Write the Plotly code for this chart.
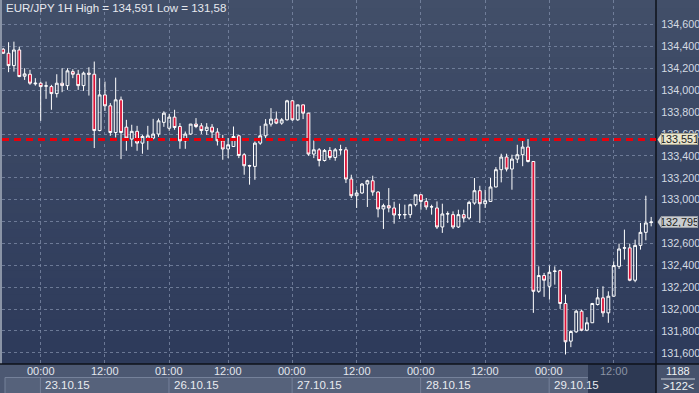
import plotly.graph_objects as go

# ---------------- data ----------------
open_ = [134.376, 134.339, 134.226, 134.369, 134.129, 134.147, 134.059, 134.065, 134.038, 134.034,
         133.970, 134.065, 134.043, 134.171, 134.147, 134.043, 134.157, 134.147, 133.632, 133.958,
         133.858, 133.614, 133.913, 133.663, 133.554, 133.625, 133.517, 133.554, 133.563, 133.600,
         133.707, 133.653, 133.755, 133.669, 133.538, 133.600, 133.691, 133.675, 133.632, 133.663,
         133.618, 133.538, 133.463, 133.486, 133.584, 133.411, 133.312, 133.304, 133.517, 133.584,
         133.691, 133.737, 133.700, 133.730, 133.904, 133.730, 133.867, 133.791, 133.417, 133.456,
         133.358, 133.450, 133.386, 133.454, 133.456, 133.189, 133.036, 133.061, 133.143, 133.173,
         133.070, 132.915, 132.945, 132.924, 132.860, 132.861, 132.863, 132.954, 133.045, 132.984,
         132.933, 132.924, 132.750, 132.869, 132.863, 132.750, 132.863, 132.832, 132.969, 133.082,
         132.963, 132.984, 133.116, 133.274, 133.390, 133.280, 133.371, 133.411, 133.481, 133.349,
         132.162, 132.306, 132.208, 132.343, 132.351, 132.050, 131.706, 131.791, 131.980, 131.806,
         131.874, 132.041, 132.102, 131.965, 132.117, 132.390, 132.556, 132.559, 132.263, 132.582,
         132.701, 132.790]
high = [134.388, 134.440, 134.445, 134.400, 134.202, 134.187, 134.111, 134.080, 134.080, 134.050,
        134.147, 134.202, 134.202, 134.193, 134.187, 134.171, 134.211, 134.263, 134.111, 134.080,
        133.883, 134.116, 133.943, 133.730, 133.685, 133.675, 133.593, 133.675, 133.739, 133.742,
        133.808, 133.785, 133.822, 133.700, 133.623, 133.693, 133.746, 133.700, 133.700, 133.691,
        133.654, 133.593, 133.563, 133.669, 133.593, 133.426, 133.319, 133.532, 133.675, 133.737,
        133.837, 133.806, 133.746, 133.913, 133.913, 133.869, 133.869, 133.793, 133.541, 133.472,
        133.463, 133.481, 133.472, 133.502, 133.481, 133.228, 133.091, 133.152, 133.182, 133.219,
        133.076, 132.963, 133.106, 132.981, 132.963, 132.954, 132.963, 133.047, 133.047, 133.015,
        132.954, 132.984, 132.963, 132.893, 132.893, 132.908, 132.908, 132.990, 133.198, 133.127,
        133.091, 133.198, 133.298, 133.420, 133.420, 133.411, 133.502, 133.538, 133.554, 133.352,
        132.390, 132.330, 132.397, 132.390, 132.360, 132.132, 131.806, 131.995, 131.995, 131.925,
        132.056, 132.184, 132.208, 132.162, 132.436, 132.598, 132.726, 132.598, 132.634, 132.787,
        133.036, 132.842]
low = [134.333, 134.166, 134.171, 134.120, 134.095, 134.050, 134.043, 133.721, 133.922, 133.822,
       133.934, 133.983, 134.004, 134.111, 134.004, 133.995, 133.952, 133.472, 133.625, 133.812,
       133.584, 133.569, 133.371, 133.447, 133.484, 133.447, 133.420, 133.456, 133.552, 133.575,
       133.666, 133.630, 133.639, 133.465, 133.465, 133.593, 133.654, 133.600, 133.593, 133.548,
       133.495, 133.365, 133.380, 133.484, 133.380, 133.228, 133.137, 133.182, 133.502, 133.563,
       133.669, 133.691, 133.685, 133.724, 133.721, 133.721, 133.737, 133.401, 133.380, 133.304,
       133.349, 133.365, 133.356, 133.411, 133.152, 133.015, 132.924, 133.054, 132.933, 133.036,
       132.838, 132.732, 132.884, 132.780, 132.823, 132.823, 132.833, 132.938, 132.908, 132.908,
       132.863, 132.732, 132.696, 132.787, 132.732, 132.741, 132.792, 132.817, 132.954, 132.787,
       132.924, 132.980, 133.113, 133.158, 133.258, 133.091, 133.335, 133.306, 133.340, 131.965,
       132.148, 132.111, 132.086, 132.223, 132.001, 131.584, 131.651, 131.782, 131.797, 131.797,
       131.872, 132.032, 131.928, 131.874, 132.114, 132.367, 132.452, 132.254, 132.245, 132.543,
       132.628, 132.756]
close = [134.339, 134.226, 134.369, 134.126, 134.150, 134.065, 134.065, 134.034, 134.041, 133.970,
         134.065, 134.043, 134.178, 134.147, 134.043, 134.157, 134.147, 133.632, 133.958, 133.858,
         133.614, 133.913, 133.614, 133.563, 133.625, 133.517, 133.578, 133.584, 133.600, 133.721,
         133.791, 133.755, 133.660, 133.538, 133.600, 133.691, 133.669, 133.632, 133.663, 133.618,
         133.538, 133.463, 133.502, 133.578, 133.404, 133.310, 133.308, 133.517, 133.584, 133.691,
         133.737, 133.700, 133.730, 133.904, 133.730, 133.867, 133.791, 133.417, 133.456, 133.358,
         133.450, 133.386, 133.456, 133.458, 133.189, 133.036, 133.061, 133.143, 133.173, 133.070,
         132.915, 132.945, 132.924, 132.860, 132.863, 132.864, 132.954, 133.045, 132.984, 132.933,
         132.935, 132.750, 132.869, 132.871, 132.750, 132.863, 132.832, 132.975, 133.082, 132.963,
         132.990, 133.116, 133.274, 133.390, 133.280, 133.371, 133.411, 133.481, 133.349, 132.162,
         132.306, 132.263, 132.336, 132.347, 132.050, 131.700, 131.794, 131.980, 131.806, 131.874,
         132.050, 132.102, 131.965, 132.117, 132.397, 132.549, 132.560, 132.263, 132.582, 132.701,
         132.787, 132.795]

time_tick_idx = [7, 19, 31, 42, 54, 66, 78, 90, 102, 114]
time_tick_text = ["00:00", "12:00", "01:00", "12:00", "00:00", "12:00", "00:00", "12:00", "00:00", "12:00"]
date_idx = [7, 31, 54, 78, 102]
date_text = ["23.10.15", "26.10.15", "27.10.15", "28.10.15", "29.10.15"]
y_tick_vals = [131.6, 131.8, 132.0, 132.2, 132.4, 132.6, 132.8, 133.0, 133.2, 133.4,
               133.6, 133.8, 134.0, 134.2, 134.4, 134.6]
level_price = 133.551
last_price = 132.795
title_text = "EUR/JPY 1H High = 134,591 Low = 131,58"
bars_total = "1188"
bars_visible = ">122<"

# ---------------- styling ----------------
W, H = 699, 393
ML, MR, MT, MB = 2, 43, 0, 29
PW, PH = W - ML - MR, H - MT - MB
FONT = "Liberation Sans Narrow, Arial Narrow, Liberation Sans, Arial, sans-serif"
FS = 11.5
FS_AX = 10.8

def px_x(px):
    return (px - ML) / PW

def px_y(py):
    return (MT + PH - py) / PH

idx = list(range(len(open_)))
fmt = lambda v: f"{v:.3f}".replace(".", ",")
# the 132,800 label sits fully behind the last-price tag in the reference
y_tick_text = ["" if abs(v - 132.8) < 1e-9 else fmt(v) for v in y_tick_vals]

fig = go.Figure()
fig.add_trace(go.Candlestick(
    x=idx, open=open_, high=high, low=low, close=close,
    increasing=dict(line=dict(color="#ffffff", width=1), fillcolor="rgba(0,0,0,0)"),
    decreasing=dict(line=dict(color="#ffffff", width=1), fillcolor="#dc1237"),
    whiskerwidth=0, hoverinfo="skip", showlegend=False,
))

shapes = []
# gradient background
top_c = (66, 79, 105)
bot_c = (43, 56, 89)
N = 48
y_bot, y_top = px_y(H), px_y(0)
for k in range(N):
    t = (k + 0.5) / N
    c = tuple(round(top_c[j] + (bot_c[j] - top_c[j]) * t) for j in range(3))
    y1 = y_top - (y_top - y_bot) * k / N
    y0 = y_top - (y_top - y_bot) * (k + 1) / N
    shapes.append(dict(type="rect", xref="paper", yref="paper", x0=px_x(0), x1=px_x(W),
                       y0=y0 - 0.002, y1=y1, fillcolor="rgb(%d,%d,%d)" % c, line=dict(width=0),
                       layer="below"))
# bottom axis panel
shapes.append(dict(type="rect", xref="paper", yref="paper", x0=px_x(0), x1=px_x(W), y0=px_y(H), y1=px_y(364),
                   fillcolor="#4c5872", line=dict(width=0), layer="below"))
# date row boxes
shapes.append(dict(type="rect", xref="paper", yref="paper", x0=px_x(5), x1=1, y0=px_y(H), y1=px_y(377),
                   fillcolor="#56627b", line=dict(width=0), layer="below"))
shapes.append(dict(type="line", xref="paper", yref="paper", x0=px_x(5), x1=1, y0=px_y(377.5), y1=px_y(377.5),
                   line=dict(color="#75819a", width=1), layer="below"))
for d in date_idx:
    shapes.append(dict(type="line", xref="x", yref="paper", x0=d - 0.05, x1=d - 0.05, y0=px_y(H), y1=px_y(377.5),
                       line=dict(color="#75819a", width=1), layer="below"))
shapes.append(dict(type="line", xref="paper", yref="paper", x0=px_x(5), x1=px_x(5), y0=px_y(H), y1=px_y(377.5),
                   line=dict(color="#75819a", width=1), layer="below"))
# dark (future) region in the axis panel
shapes.append(dict(type="rect", xref="paper", yref="paper", x0=px_x(588), x1=1, y0=px_y(H), y1=px_y(364),
                   fillcolor="#2d3953", line=dict(width=0), layer="below"))
# corner box
shapes.append(dict(type="rect", xref="paper", yref="paper", x0=1, x1=px_x(W), y0=px_y(H), y1=px_y(364),
                   fillcolor="#46526c", line=dict(width=0), layer="below"))
shapes.append(dict(type="line", xref="paper", yref="paper", x0=px_x(661), x1=px_x(695), y0=px_y(379), y1=px_y(379),
                   line=dict(color="#c9cfd8", width=1)))
# left border strip
shapes.append(dict(type="rect", xref="paper", yref="paper", x0=px_x(0), x1=px_x(2), y0=px_y(364), y1=px_y(0),
                   fillcolor="#8a94a6", line=dict(width=0)))
# frame lines
shapes.append(dict(type="line", xref="paper", yref="paper", x0=1, x1=1, y0=px_y(H), y1=px_y(0),
                   line=dict(color="#0e121a", width=1.5)))
shapes.append(dict(type="line", xref="paper", yref="paper", x0=px_x(0), x1=px_x(W), y0=0, y1=0,
                   line=dict(color="#0e121a", width=1.5)))
# level line
shapes.append(dict(type="line", xref="paper", yref="y", x0=0, x1=1, y0=level_price, y1=level_price,
                   line=dict(color="#e8000b", width=3, dash="7px,5px")))
# price tag pointers
ppu = PH / (134.826 - 131.497)
for p, col in [(level_price, "#e9e5cd"), (last_price, "#c9ccd0")]:
    h = 5.5 / ppu
    shapes.append(dict(type="path", xref="paper", yref="y",
                       path=f"M {px_x(657.5)} {p} L {px_x(661)} {p + h} L {px_x(661)} {p - h} Z",
                       fillcolor=col, line=dict(width=0)))

annotations = []
annotations.append(dict(text=title_text, xref="paper", yref="paper", x=px_x(4), y=px_y(8),
                        xanchor="left", yanchor="middle", showarrow=False,
                        font=dict(family=FONT, size=FS, color="#e6e9ef")))
for i, t in zip(time_tick_idx, time_tick_text):
    col = "#8b93a4" if i == time_tick_idx[-1] else "#e3e7ee"
    annotations.append(dict(text=t, xref="x", yref="paper", x=i, y=px_y(371), xanchor="center",
                            yanchor="middle", showarrow=False, font=dict(family=FONT, size=11, color=col)))
for i, t in zip(date_idx, date_text):
    annotations.append(dict(text=t, xref="x", yref="paper", x=i + 0.5, y=px_y(385), xanchor="left",
                            yanchor="middle", showarrow=False, font=dict(family=FONT, size=FS, color="#e8ebf0")))
annotations.append(dict(text=bars_total, xref="paper", yref="paper", x=px_x(678), y=px_y(371), xanchor="center",
                        yanchor="middle", showarrow=False, font=dict(family=FONT, size=11, color="#f0f2f5")))
annotations.append(dict(text=bars_visible, xref="paper", yref="paper", x=px_x(678), y=px_y(386), xanchor="center",
                        yanchor="middle", showarrow=False, font=dict(family=FONT, size=11, color="#f0f2f5")))
for p, col, bc in [(level_price, "#e9e5cd", "#a9a691"), (last_price, "#c9ccd0", "#9a9ea6")]:
    annotations.append(dict(text=fmt(p), xref="paper", yref="y", x=px_x(660.5), y=p, xanchor="left",
                            yanchor="middle", showarrow=False, bgcolor=col, bordercolor=bc, borderwidth=1,
                            borderpad=0, width=35, height=10,
                            font=dict(family=FONT, size=FS_AX, color="#1d1f24")))

fig.update_layout(
    width=W, height=H,
    margin=dict(l=ML, r=MR, t=MT, b=MB, pad=0, autoexpand=False),
    paper_bgcolor="#36435f", plot_bgcolor="rgba(0,0,0,0)",
    showlegend=False, boxgap=0.25,
    font=dict(family=FONT, size=FS, color="#d4dae3"),
    shapes=shapes, annotations=annotations,
    xaxis=dict(type="linear", range=[-0.227, 121.9], tickvals=time_tick_idx, showticklabels=False,
               showgrid=True, gridcolor="rgba(128,142,170,0.75)", griddash="3px,3px", gridwidth=1,
               zeroline=False, showline=False, ticks="", rangeslider=dict(visible=False),
               fixedrange=True, automargin=False),
    yaxis=dict(side="right", range=[131.497, 134.826], tickvals=y_tick_vals,
               ticktext=y_tick_text, showgrid=True,
               gridcolor="rgba(128,142,170,0.75)", griddash="3px,3px", gridwidth=1, zeroline=False,
               showline=False, ticks="outside", ticklen=2, tickcolor="rgba(0,0,0,0)",
               tickfont=dict(family=FONT, size=FS_AX, color="#d4dae3"), fixedrange=True,
               automargin=False),
)

fig.write_html("out.html", config={"displayModeBar": False},
               post_script="document.body.style.margin='0';document.body.style.overflow='hidden';")
